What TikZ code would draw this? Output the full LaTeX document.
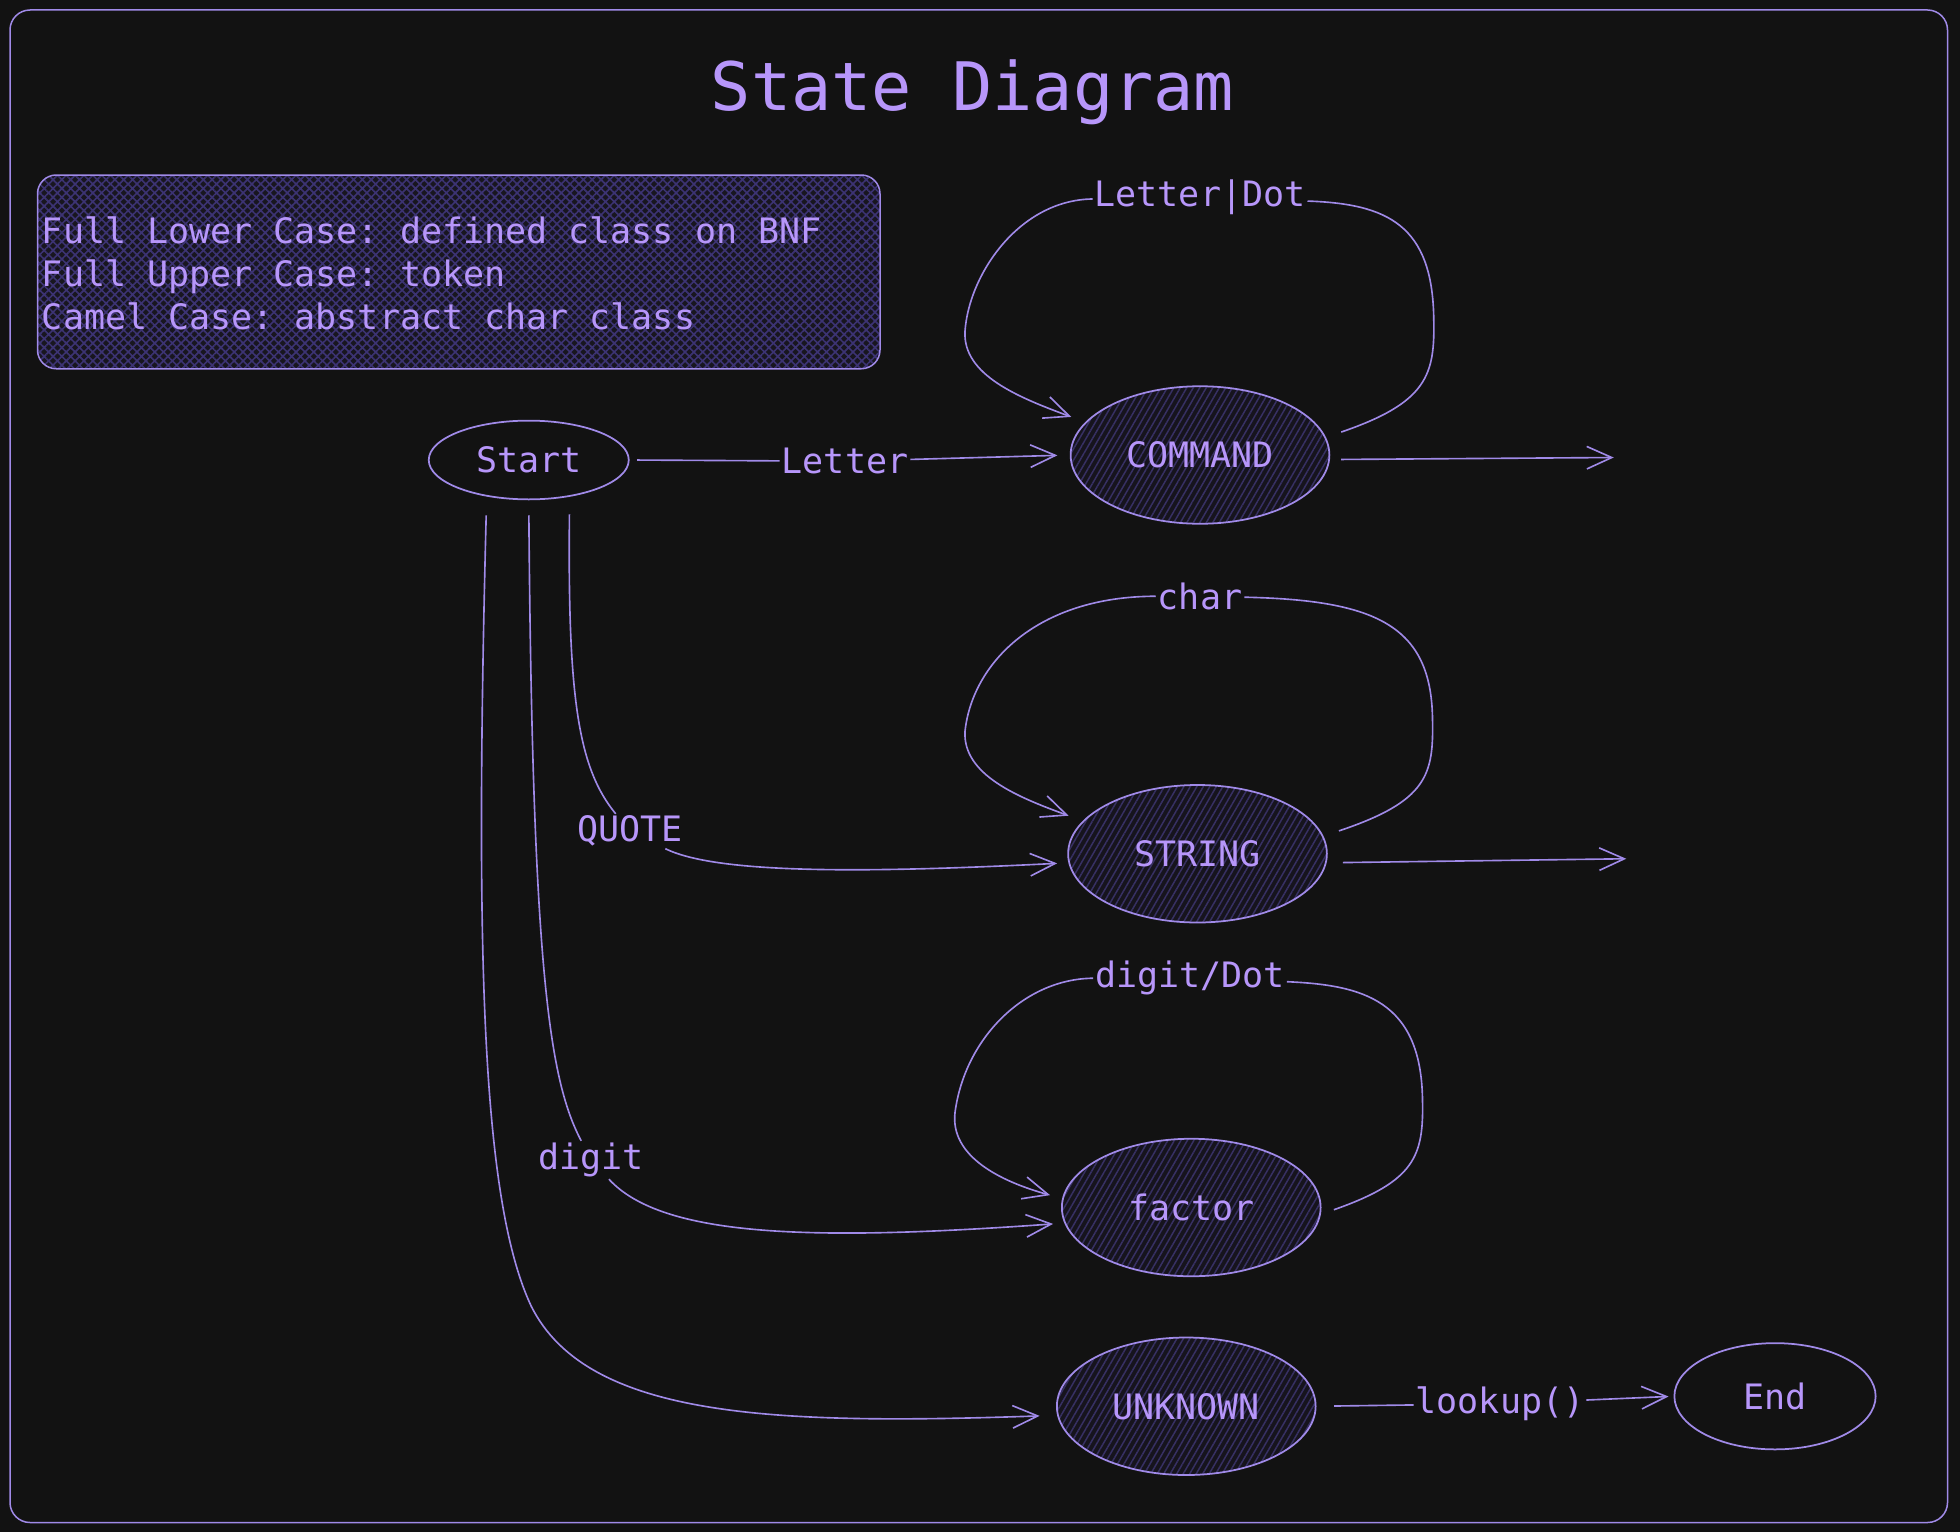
\documentclass[tikz,border=0pt]{standalone}
\usepackage{fontspec}
\setmonofont{DejaVu Sans Mono}
\usetikzlibrary{arrows.meta,shapes.geometric,patterns.meta,calc}
\definecolor{bg}{HTML}{121212}
\definecolor{ink}{HTML}{B796FA}
\definecolor{strk}{HTML}{A08AE8}
\definecolor{hatchc}{HTML}{373063}
\definecolor{hatchbg}{HTML}{16141D}
\definecolor{notehatch}{HTML}{3C3373}
\definecolor{notebg}{HTML}{18161F}
\newcommand\lblfont{\ttfamily\fontsize{28}{34.5}\selectfont}
\newcommand\ttlfont{\ttfamily\fontsize{53.5}{60}\selectfont}
\begin{document}
\begin{tikzpicture}[x=1pt,y=-1pt,
  statebox/.style={ellipse, draw=strk, line width=1.4pt, minimum width=207pt, minimum height=110pt,
    inner sep=0pt, text=ink, font=\lblfont, preaction={fill=hatchbg},
    pattern={Lines[angle=60,distance=4.5pt,line width=1.2pt]}, pattern color=hatchc},
  plainstate/.style={ellipse, draw=strk, line width=1.4pt, inner sep=0pt, text=ink, font=\lblfont},
  lab/.style={text=ink, font=\lblfont, inner sep=1.5pt},
  edge/.style={draw=strk, line width=1.3pt},
  arr/.style={edge, -{Straight Barb[length=20pt,width=18pt,line width=1.3pt]}},
  notebox/.style={rectangle, rounded corners=15pt, draw=strk, line width=1.2pt,
    preaction={fill=notebg}, pattern={Hatch[angle=45,distance=5pt,line width=1.3pt]}, pattern color=notehatch}
]
\fill[bg] (0,0) rectangle (1568,1225.6);
\useasboundingbox (0,0) rectangle (1568,1225.6);
\draw[strk, line width=1.2pt, rounded corners=16pt] (8,8) rectangle (1558,1218);

% title
\node[text=ink, font=\ttlfont] (title) at (778,74) {State Diagram};

% legend
\node[notebox, minimum width=674pt, minimum height=155pt] (note) at (367,217.5) {};
\node[text=ink, font=\lblfont, align=left, inner sep=0pt, anchor=west] (notetxt) at ($(note.west)+(4,1)$)
  {Full Lower Case: defined class on BNF\\Full Upper Case: token\\Camel Case: abstract char class};

% states
\node[plainstate, minimum width=160pt, minimum height=63pt] (start) at (423,368) {Start};
\node[statebox] (command) at (960,364) {COMMAND};
\node[statebox] (string) at (958,683) {STRING};
\node[statebox] (factor) at (953,966) {factor};
\node[statebox] (unknown) at (949,1125) {UNKNOWN};
\node[plainstate, minimum width=161pt, minimum height=85pt] (end) at (1420,1117) {End};

% labels
\node[lab] (lLetter) at (676,369) {Letter};
\node[lab] (lLD) at (960,158) {Letter|Dot};
\node[lab] (lChar) at (960,477) {char};
\node[lab] (lDD) at (952,782) {digit/Dot};
\node[lab] (lQuote) at (504,665) {QUOTE};
\node[lab] (lDigit) at (473,928) {digit};
\node[lab] (lLookup) at (1200,1123) {lookup()};

\coordinate (cOut) at (1291,366);
\coordinate (sOut) at (1301,687);

% Start -> COMMAND
\draw[edge, shorten <=6pt] (start.east) -- (lLetter);
\draw[arr, shorten >=10pt] (lLetter) -- (command.west);
\draw[arr, shorten <=9pt] (command.-2) -- (cOut);

% COMMAND loop
\draw[edge, shorten <=13pt] (command.8) .. controls (1142,322) and (1148,300) .. (1147,255)
  .. controls (1146,180) and (1110,163) .. (lLD);
\draw[arr, shorten >=12pt] (lLD) .. controls (815,160) and (775,220) .. (772,265)
  .. controls (770,300) and (815,318) .. (command.164);

% STRING loop
\draw[edge, shorten <=13pt] (string.8) .. controls (1142,641) and (1147,620) .. (1146,575)
  .. controls (1145,500) and (1100,480) .. (lChar);
\draw[arr, shorten >=12pt] (lChar) .. controls (830,477) and (778,530) .. (772,585)
  .. controls (770,620) and (815,638) .. (string.164);
\draw[arr, shorten <=13pt] (string.-4) -- (sOut);

% factor loop
\draw[edge, shorten <=11pt] (factor.-3) .. controls (1132,945) and (1139,925) .. (1138,880)
  .. controls (1137,800) and (1090,788) .. (lDD);
\draw[arr, shorten >=10pt] (lDD) .. controls (820,783) and (772,830) .. (764,890)
  .. controls (760,925) and (800,945) .. (factor.176);

% Start -> STRING
\draw[edge, shorten <=14pt] (start.318) .. controls (454,560) and (463,615) .. (lQuote);
\draw[arr, shorten >=9pt] (lQuote) .. controls (575,700) and (700,698) .. (string.184);

% Start -> factor
\draw[edge, shorten <=12pt] (start.south) .. controls (426,780) and (440,865) .. (lDigit);
\draw[arr, shorten >=9pt] (lDigit) .. controls (530,990) and (650,993) .. (factor.187);

% Start -> UNKNOWN
\draw[arr, shorten <=15pt, shorten >=14pt] (start.221) .. controls (380,760) and (385,960) .. (425,1045)
  .. controls (470,1135) and (620,1140) .. (unknown.184);

% UNKNOWN -> End
\draw[edge, shorten <=14pt] (unknown.east) -- (lLookup);
\draw[arr, shorten >=4pt] (lLookup) -- (end.west);
\end{tikzpicture}
\end{document}
